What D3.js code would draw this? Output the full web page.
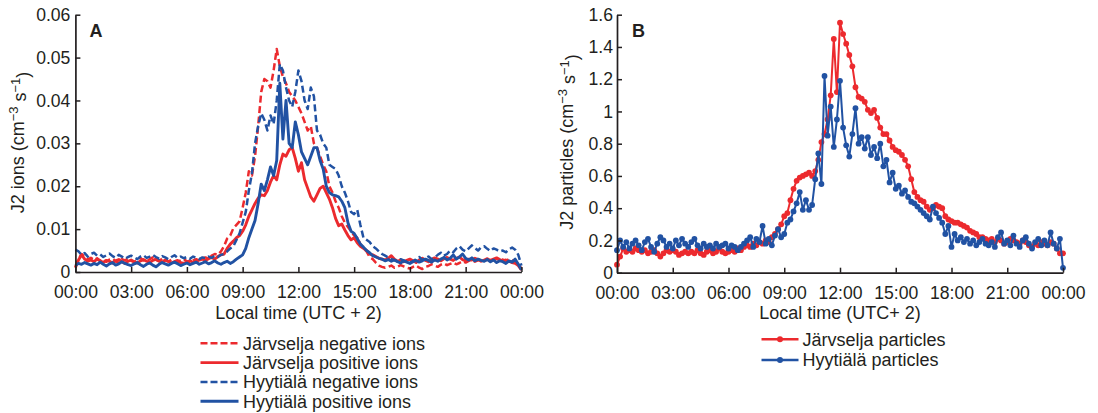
<!DOCTYPE html>
<html>
<head>
<meta charset="utf-8">
<script src="https://cdn.jsdelivr.net/npm/d3@7"></script>
<style>
  body { margin: 0; background: #fff; }
  svg text { font-family: "Liberation Sans", Arial, Helvetica, sans-serif; fill: #231f20; }
</style>
</head>
<body>
<svg id="chart" width="1098" height="413"></svg>
<script>
// ---- Time grid: 10-minute steps over one day (00:00 .. 24:00) ----
const stepMinutes = 10;
const hours = d3.range(0, 24 * 60 / stepMinutes + 1).map(i => i * stepMinutes / 60);

const timeTicks = [0, 3, 6, 9, 12, 15, 18, 21, 24];
const timeTickLabels = ["00:00", "03:00", "06:00", "09:00", "12:00", "15:00", "18:00", "21:00", "00:00"];

const ionTicks = [0, 0.01, 0.02, 0.03, 0.04, 0.05, 0.06];
const ionTickLabels = ["0", "0.01", "0.02", "0.03", "0.04", "0.05", "0.06"];

const particleTicks = [0, 0.2, 0.4, 0.6, 0.8, 1.0, 1.2, 1.4, 1.6];
const particleTickLabels = ["0", "0.2", "0.4", "0.6", "0.8", "1", "1.2", "1.4", "1.6"];

// ---- Panel A: J2 ion formation rates (cm^-3 s^-1), one row per hour ----
const jarvNegIons = [
  0.0012,0.0030,0.0042,0.0035,0.0030,0.0033,
  0.0028,0.0032,0.0026,0.0030,0.0024,0.0029,
  0.0031,0.0025,0.0022,0.0030,0.0027,0.0032,
  0.0026,0.0023,0.0029,0.0033,0.0027,0.0024,
  0.0030,0.0034,0.0028,0.0025,0.0031,0.0027,
  0.0024,0.0029,0.0026,0.0023,0.0027,0.0030,
  0.0025,0.0022,0.0027,0.0030,0.0026,0.0032,
  0.0034,0.0030,0.0038,0.0042,0.0040,0.0048,
  0.0060,0.0078,0.0085,0.0102,0.0110,0.0118,
  0.0150,0.0185,0.0235,0.0225,0.0270,0.0340,
  0.0420,0.0450,0.0445,0.0430,0.0470,0.0520,
  0.0480,0.0455,0.0440,0.0420,0.0410,0.0400,
  0.0385,0.0370,0.0350,0.0330,0.0340,0.0300,
  0.0290,0.0270,0.0250,0.0235,0.0200,0.0185,
  0.0165,0.0150,0.0130,0.0115,0.0105,0.0095,
  0.0085,0.0080,0.0065,0.0055,0.0048,0.0035,
  0.0030,0.0022,0.0015,0.0012,0.0010,0.0012,
  0.0015,0.0010,0.0012,0.0016,0.0013,0.0010,
  0.0008,0.0012,0.0015,0.0010,0.0007,0.0012,
  0.0014,0.0018,0.0015,0.0012,0.0017,0.0020,
  0.0016,0.0019,0.0022,0.0018,0.0021,0.0025,
  0.0022,0.0026,0.0028,0.0024,0.0027,0.0030,
  0.0026,0.0029,0.0025,0.0028,0.0031,0.0027,
  0.0029,0.0026,0.0030,0.0027,0.0023,0.0018,
  0.0008
];

const jarvPosIons = [
  0.0010,0.0028,0.0040,0.0030,0.0025,0.0028,
  0.0024,0.0030,0.0026,0.0022,0.0027,0.0025,
  0.0021,0.0026,0.0029,0.0024,0.0020,0.0025,
  0.0028,0.0024,0.0021,0.0026,0.0029,0.0025,
  0.0022,0.0027,0.0030,0.0026,0.0023,0.0028,
  0.0025,0.0021,0.0024,0.0027,0.0022,0.0020,
  0.0023,0.0026,0.0022,0.0025,0.0028,0.0030,
  0.0027,0.0031,0.0034,0.0030,0.0036,0.0040,
  0.0042,0.0055,0.0065,0.0072,0.0080,0.0085,
  0.0095,0.0110,0.0130,0.0145,0.0160,0.0172,
  0.0180,0.0178,0.0190,0.0210,0.0225,0.0215,
  0.0250,0.0275,0.0270,0.0285,0.0290,0.0265,
  0.0235,0.0255,0.0215,0.0195,0.0175,0.0165,
  0.0180,0.0195,0.0200,0.0185,0.0170,0.0150,
  0.0125,0.0108,0.0112,0.0098,0.0085,0.0075,
  0.0080,0.0068,0.0060,0.0055,0.0050,0.0042,
  0.0040,0.0036,0.0032,0.0030,0.0028,0.0032,
  0.0038,0.0030,0.0025,0.0028,0.0024,0.0027,
  0.0030,0.0026,0.0022,0.0028,0.0032,0.0027,
  0.0024,0.0029,0.0033,0.0030,0.0026,0.0031,
  0.0034,0.0030,0.0027,0.0032,0.0035,0.0029,
  0.0026,0.0030,0.0028,0.0032,0.0029,0.0025,
  0.0028,0.0031,0.0027,0.0030,0.0033,0.0029,
  0.0026,0.0028,0.0025,0.0022,0.0020,0.0015,
  0.0005
];

const hyyNegIons = [
  0.0052,0.0048,0.0040,0.0044,0.0036,0.0042,
  0.0045,0.0038,0.0041,0.0035,0.0039,0.0043,
  0.0037,0.0033,0.0040,0.0036,0.0031,0.0035,
  0.0038,0.0034,0.0030,0.0036,0.0039,0.0033,
  0.0036,0.0040,0.0035,0.0031,0.0037,0.0034,
  0.0030,0.0035,0.0039,0.0033,0.0036,0.0032,
  0.0035,0.0031,0.0036,0.0033,0.0030,0.0034,
  0.0032,0.0036,0.0033,0.0038,0.0035,0.0040,
  0.0042,0.0048,0.0055,0.0060,0.0075,0.0090,
  0.0115,0.0140,0.0190,0.0230,0.0300,0.0340,
  0.0370,0.0355,0.0330,0.0365,0.0345,0.0400,
  0.0485,0.0470,0.0430,0.0400,0.0385,0.0420,
  0.0470,0.0445,0.0400,0.0380,0.0430,0.0410,
  0.0330,0.0320,0.0300,0.0290,0.0250,0.0245,
  0.0240,0.0225,0.0200,0.0185,0.0165,0.0140,
  0.0135,0.0145,0.0110,0.0080,0.0075,0.0070,
  0.0060,0.0055,0.0048,0.0042,0.0038,0.0034,
  0.0030,0.0028,0.0025,0.0030,0.0027,0.0024,
  0.0022,0.0025,0.0030,0.0035,0.0028,0.0032,
  0.0036,0.0030,0.0034,0.0040,0.0045,0.0038,
  0.0042,0.0050,0.0046,0.0055,0.0060,0.0052,
  0.0048,0.0055,0.0062,0.0056,0.0050,0.0058,
  0.0060,0.0054,0.0049,0.0055,0.0052,0.0048,
  0.0050,0.0046,0.0053,0.0057,0.0052,0.0040,
  0.0015
];

const hyyPosIons = [
  0.0015,0.0020,0.0018,0.0022,0.0019,0.0016,
  0.0020,0.0017,0.0023,0.0018,0.0014,0.0019,
  0.0022,0.0016,0.0019,0.0024,0.0020,0.0017,
  0.0015,0.0019,0.0022,0.0017,0.0013,0.0018,
  0.0021,0.0016,0.0012,0.0018,0.0022,0.0019,
  0.0016,0.0020,0.0023,0.0019,0.0015,0.0018,
  0.0021,0.0017,0.0020,0.0023,0.0018,0.0021,
  0.0024,0.0019,0.0022,0.0026,0.0021,0.0018,
  0.0022,0.0025,0.0020,0.0024,0.0030,0.0035,
  0.0040,0.0055,0.0080,0.0100,0.0120,0.0160,
  0.0205,0.0190,0.0215,0.0245,0.0225,0.0260,
  0.0440,0.0310,0.0400,0.0300,0.0290,0.0350,
  0.0320,0.0280,0.0265,0.0250,0.0270,0.0290,
  0.0290,0.0260,0.0240,0.0200,0.0185,0.0180,
  0.0178,0.0175,0.0165,0.0150,0.0115,0.0095,
  0.0090,0.0078,0.0065,0.0058,0.0050,0.0045,
  0.0038,0.0035,0.0032,0.0030,0.0026,0.0029,
  0.0025,0.0028,0.0024,0.0021,0.0026,0.0023,
  0.0020,0.0024,0.0027,0.0023,0.0026,0.0030,
  0.0027,0.0023,0.0028,0.0025,0.0030,0.0034,
  0.0028,0.0032,0.0040,0.0030,0.0035,0.0042,
  0.0032,0.0028,0.0033,0.0026,0.0030,0.0027,
  0.0025,0.0029,0.0024,0.0028,0.0022,0.0026,
  0.0024,0.0020,0.0026,0.0023,0.0030,0.0018,
  0.0005
];

// ---- Panel B: J2 particle formation rates (cm^-3 s^-1), one row per hour ----
const jarvParticles = [
  0.05,0.10,0.15,0.13,0.14,0.13,
  0.15,0.14,0.13,0.14,0.12,0.13,
  0.14,0.12,0.10,0.12,0.14,0.13,
  0.14,0.13,0.11,0.12,0.13,0.12,
  0.13,0.12,0.14,0.12,0.11,0.13,
  0.14,0.12,0.13,0.15,0.13,0.12,
  0.13,0.14,0.13,0.15,0.14,0.16,
  0.17,0.16,0.18,0.17,0.19,0.18,
  0.20,0.19,0.22,0.24,0.27,0.30,
  0.35,0.37,0.45,0.52,0.57,0.59,
  0.60,0.61,0.62,0.60,0.63,0.70,
  0.81,0.86,0.95,1.10,1.45,1.12,
  1.55,1.48,1.42,1.35,1.28,1.15,
  1.09,1.08,1.06,1.01,0.99,1.01,
  0.96,0.90,0.86,0.86,0.82,0.78,
  0.76,0.75,0.73,0.70,0.66,0.58,
  0.50,0.47,0.45,0.44,0.41,0.39,
  0.40,0.42,0.41,0.40,0.35,0.33,
  0.32,0.31,0.31,0.30,0.29,0.28,
  0.26,0.25,0.24,0.22,0.22,0.21,
  0.20,0.21,0.19,0.21,0.20,0.18,
  0.19,0.21,0.20,0.19,0.18,0.20,
  0.19,0.17,0.16,0.18,0.17,0.19,
  0.18,0.17,0.19,0.18,0.15,0.12,
  0.12
];

const hyyParticles = [
  0.14,0.20,0.16,0.19,0.15,0.18,
  0.20,0.17,0.14,0.19,0.21,0.16,
  0.13,0.18,0.22,0.20,0.16,0.18,
  0.15,0.20,0.17,0.21,0.18,0.16,
  0.19,0.21,0.17,0.15,0.18,0.16,
  0.17,0.15,0.18,0.16,0.17,0.18,
  0.15,0.17,0.16,0.14,0.16,0.18,
  0.20,0.22,0.16,0.21,0.19,0.29,
  0.18,0.21,0.17,0.23,0.27,0.22,
  0.24,0.31,0.33,0.38,0.43,0.50,
  0.39,0.45,0.39,0.42,0.58,0.74,
  0.55,1.22,0.85,1.03,0.78,0.95,
  1.19,0.90,0.79,0.72,0.86,1.02,
  0.80,0.84,0.77,0.84,0.73,0.78,
  0.71,0.80,0.66,0.70,0.56,0.62,
  0.52,0.54,0.49,0.51,0.47,0.44,
  0.43,0.41,0.39,0.37,0.35,0.33,
  0.41,0.37,0.34,0.31,0.24,0.29,
  0.16,0.24,0.20,0.22,0.19,0.21,
  0.18,0.20,0.17,0.19,0.21,0.18,
  0.17,0.19,0.16,0.22,0.25,0.18,
  0.20,0.17,0.23,0.18,0.16,0.20,
  0.22,0.18,0.15,0.19,0.21,0.17,
  0.20,0.17,0.25,0.18,0.15,0.21,
  0.03
];

// ---- Styling ----
const RED = "#ec2a2e";
const BLUE = "#2152a3";
const INK = "#231f20";
const TICK_FONT = 17.6;
const TITLE_FONT = 18;
const LEGEND_FONT = 18;

const svg = d3.select("#chart");

function drawAxes(g, x, y, yTicks, yLabels, yPad) {
  const fmtX = d => timeTickLabels[timeTicks.indexOf(d)];
  const fmtY = d => yLabels[yTicks.indexOf(d)];
  const y0 = y.range()[0];
  const x0 = x.range()[0];

  const ax = g.append("g")
    .attr("transform", `translate(0,${y0})`)
    .call(d3.axisBottom(x).tickValues(timeTicks).tickFormat(fmtX)
      .tickSizeInner(-5).tickSizeOuter(0).tickPadding(14));
  const ay = g.append("g")
    .attr("transform", `translate(${x0},0)`)
    .call(d3.axisLeft(y).tickValues(yTicks).tickFormat(fmtY)
      .tickSizeInner(-5).tickSizeOuter(0).tickPadding(yPad));

  [ax, ay].forEach(a => {
    a.selectAll(".domain").attr("stroke", INK).attr("stroke-width", 1.7);
    a.selectAll(".tick line").attr("stroke", INK).attr("stroke-width", 1.5);
    a.selectAll(".tick text").attr("font-size", TICK_FONT)
      .attr("font-family", "'Liberation Sans', Arial, sans-serif").attr("fill", INK);
  });
}

function yTitle(g, xPos, yPos, label) {
  const t = g.append("text")
    .attr("transform", `translate(${xPos},${yPos}) rotate(-90)`)
    .attr("text-anchor", "middle")
    .attr("font-size", TITLE_FONT);
  t.append("tspan").text(label + " (cm");
  t.append("tspan").attr("dy", "-0.45em").attr("font-size", "0.72em").text("\u22123");
  t.append("tspan").attr("dy", "0.45em").text(" s");
  t.append("tspan").attr("dy", "-0.45em").attr("font-size", "0.72em").text("\u22121");
  t.append("tspan").attr("dy", "0.45em").text(")");
}

// ================= Panel A =================
const gA = svg.append("g");
const xA = d3.scaleLinear().domain([0, 24]).range([75.4, 521.4]);
const yA = d3.scaleLinear().domain([0, 0.06]).range([272, 14.7]);

const ionSeries = [
  { name: "Järvselja negative ions", values: jarvNegIons, color: RED, dash: "7,3.5", width: 2.5 },
  { name: "Järvselja positive ions", values: jarvPosIons, color: RED, dash: null, width: 2.9 },
  { name: "Hyytiälä negative ions", values: hyyNegIons, color: BLUE, dash: "7,3.5", width: 2.5 },
  { name: "Hyytiälä positive ions", values: hyyPosIons, color: BLUE, dash: null, width: 2.9 }
];

const lineA = d3.line().x((d, i) => xA(hours[i])).y(d => yA(d));
ionSeries.forEach(s => {
  gA.append("path")
    .datum(s.values)
    .attr("fill", "none")
    .attr("stroke", s.color)
    .attr("stroke-width", s.width)
    .attr("stroke-dasharray", s.dash)
    .attr("stroke-linejoin", "round")
    .attr("d", lineA);
});

drawAxes(gA, xA, yA, ionTicks, ionTickLabels, 5);
yTitle(gA, 24, 142.5, "J2 ions");

gA.append("text").attr("x", (xA.range()[0] + xA.range()[1]) / 2).attr("y", 319)
  .attr("text-anchor", "middle").attr("font-size", TITLE_FONT).text("Local time (UTC + 2)");
gA.append("text").attr("x", 89.5).attr("y", 37).attr("font-size", 18)
  .attr("font-weight", "bold").text("A");

// Legend A
const legA = gA.append("g");
ionSeries.forEach((s, i) => {
  const cy = 343.3 + i * 19.3;
  legA.append("line").attr("x1", 200.5).attr("x2", 238.5).attr("y1", cy).attr("y2", cy)
    .attr("stroke", s.color).attr("stroke-width", s.dash ? 2.5 : 2.9)
    .attr("stroke-dasharray", s.dash ? "7,3" : null);
  legA.append("text").attr("x", 243).attr("y", cy + 6.4)
    .attr("font-size", LEGEND_FONT).text(s.name);
});

// ================= Panel B =================
const gB = svg.append("g");
const xB = d3.scaleLinear().domain([0, 24]).range([617, 1063]);
const yB = d3.scaleLinear().domain([0, 1.6]).range([272.7, 14.7]);

const particleSeries = [
  { name: "Järvselja particles", values: jarvParticles, color: RED },
  { name: "Hyytiälä particles", values: hyyParticles, color: BLUE }
];

const lineB = d3.line().x((d, i) => xB(hours[i])).y(d => yB(d));
particleSeries.forEach(s => {
  const g = gB.append("g");
  g.append("path")
    .datum(s.values)
    .attr("fill", "none")
    .attr("stroke", s.color)
    .attr("stroke-width", 2)
    .attr("stroke-linejoin", "round")
    .attr("d", lineB);
  g.selectAll("circle")
    .data(s.values)
    .join("circle")
    .attr("cx", (d, i) => xB(hours[i]))
    .attr("cy", d => yB(d))
    .attr("r", 2.9)
    .attr("fill", s.color);
});

drawAxes(gB, xB, yB, particleTicks, particleTickLabels, 4);
yTitle(gB, 573, 142, "J2 particles");

gB.append("text").attr("x", (xB.range()[0] + xB.range()[1]) / 2).attr("y", 319)
  .attr("text-anchor", "middle").attr("font-size", TITLE_FONT).text("Local time (UTC+ 2)");
gB.append("text").attr("x", 632).attr("y", 37).attr("font-size", 18)
  .attr("font-weight", "bold").text("B");

// Legend B
const legB = gB.append("g");
particleSeries.forEach((s, i) => {
  const cy = 339.3 + i * 20.7;
  legB.append("line").attr("x1", 761.5).attr("x2", 798.5).attr("y1", cy).attr("y2", cy)
    .attr("stroke", s.color).attr("stroke-width", 2.5);
  legB.append("circle").attr("cx", 780).attr("cy", cy).attr("r", 3).attr("fill", s.color);
  legB.append("text").attr("x", 802.5).attr("y", cy + 6.4)
    .attr("font-size", LEGEND_FONT).text(s.name);
});
</script>
</body>
</html>
